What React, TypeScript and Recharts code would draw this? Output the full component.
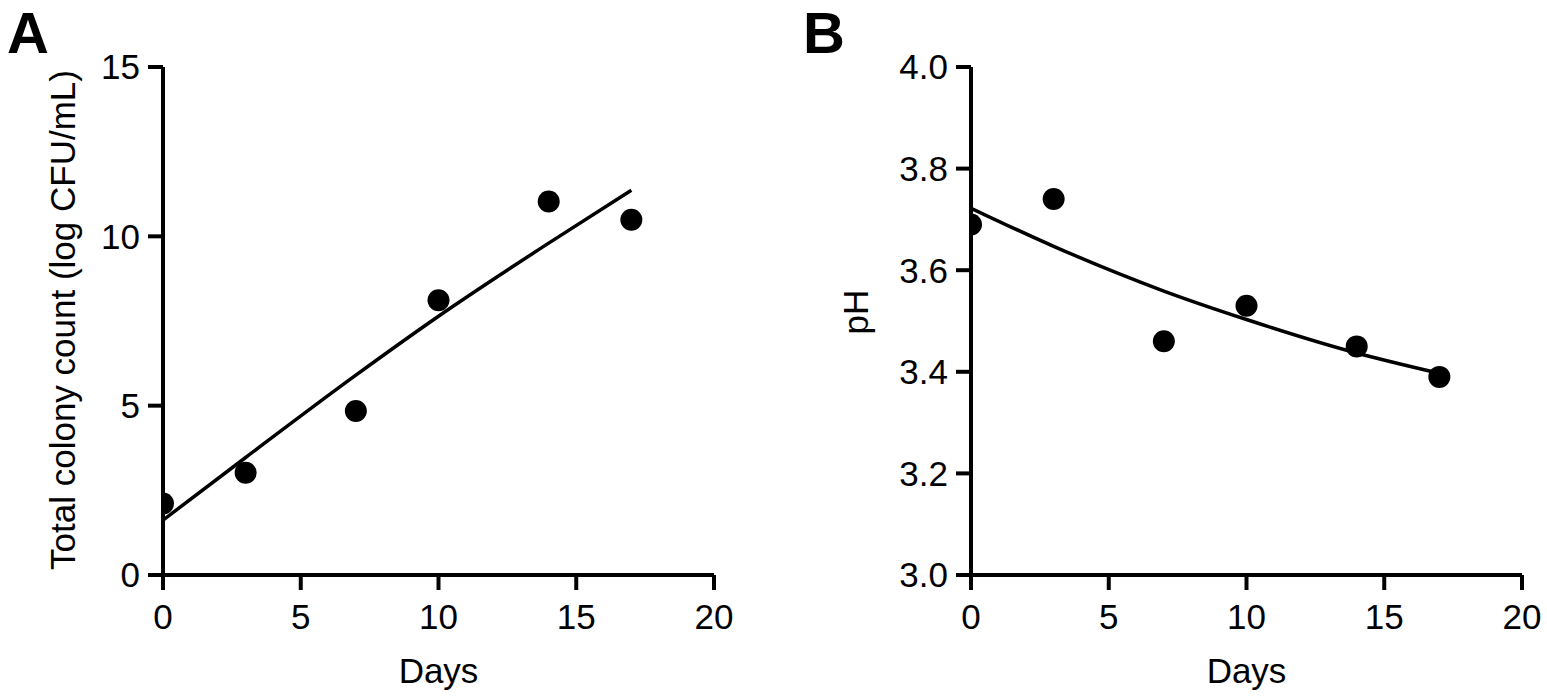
import React from "react"
import { ComposedChart, XAxis, YAxis, Scatter, Line, Label } from "recharts"

// measured days
const days = [0, 3, 7, 10, 14, 17]
// A: total colony count (log CFU/mL)
const colonyCount = [2.11, 3.02, 4.84, 8.11, 11.03, 10.49]
const colonyFit = [1.62, 3.47, 5.9, 7.64, 9.8, 11.36]
// B: pH
const phValues = [3.69, 3.74, 3.46, 3.53, 3.45, 3.39]
const phFit = [3.722, 3.647, 3.559, 3.503, 3.437, 3.397]

const xTicks = [0, 5, 10, 15, 20]
const colonyTicks = [0, 5, 10, 15]
const phTicks = [3.0, 3.2, 3.4, 3.6, 3.8, 4.0]

const FONT = '"Liberation Sans", Arial, Helvetica, sans-serif'

const toRows = (xs: number[], ys: number[]) =>
  xs.map((day, i) => ({ day, value: ys[i] }))

const axisStroke = { stroke: "#000", strokeWidth: 4 }
const tickStyle = { fill: "#000", fontSize: 35, fontFamily: FONT }

const Dot = (props: any) => (
  <circle cx={props.cx} cy={props.cy} r={11} fill="#000" />
)

interface PanelProps {
  points: { day: number; value: number }[]
  fit: { day: number; value: number }[]
  yDomain: [number, number]
  yTicks: number[]
  yFormat?: (v: number) => string
  yTitle: string
  yTitleX: number
  yTitleY: number
  width: number
  margin: { top: number; right: number; bottom: number; left: number }
}

function Panel({
  points,
  fit,
  yDomain,
  yTicks,
  yFormat,
  yTitle,
  yTitleX,
  yTitleY,
  width,
  margin,
}: PanelProps) {
  return (
    <ComposedChart width={width} height={697} margin={margin}>
      <XAxis
        type="number"
        dataKey="day"
        domain={[0, 20]}
        ticks={xTicks}
        allowDataOverflow
        height={60}
        tickSize={15}
        tickMargin={14}
        axisLine={axisStroke}
        tickLine={axisStroke}
        tick={tickStyle}
      >
        <Label
          content={({ viewBox }: any) => (
            <text
              x={viewBox.x + viewBox.width / 2}
              y={683}
              textAnchor="middle"
              fontSize={35}
              fontFamily={FONT}
              fill="#000"
            >
              Days
            </text>
          )}
        />
      </XAxis>
      <YAxis
        type="number"
        dataKey="value"
        domain={yDomain}
        ticks={yTicks}
        allowDataOverflow
        width={80}
        tickSize={15}
        tickMargin={8}
        axisLine={axisStroke}
        tickLine={axisStroke}
        tick={tickStyle}
        tickFormatter={yFormat}
      >
        <Label
          content={() => (
            <text
              x={yTitleX}
              y={yTitleY}
              transform={`rotate(-90 ${yTitleX} ${yTitleY})`}
              textAnchor="middle"
              fontSize={35}
              fontFamily={FONT}
              fill="#000"
            >
              {yTitle}
            </text>
          )}
        />
      </YAxis>
      <Line
        data={fit}
        dataKey="value"
        type="monotone"
        stroke="#000"
        strokeWidth={3.5}
        dot={false}
        activeDot={false}
        isAnimationActive={false}
      />
      <Scatter
        data={points}
        dataKey="value"
        fill="#000"
        shape={Dot}
        isAnimationActive={false}
      />
    </ComposedChart>
  )
}

const letterStyle: React.CSSProperties = {
  position: "absolute",
  top: 0,
  fontFamily: FONT,
  fontWeight: 700,
  fontSize: 58,
  lineHeight: "65px",
  color: "#000",
}

export default function App() {
  return (
    <div
      style={{
        position: "absolute",
        left: 0,
        top: 0,
        width: 1547,
        height: 697,
        background: "#fff",
        overflow: "hidden",
      }}
    >
      <div style={{ position: "absolute", left: 0, top: 0 }}>
        <Panel
          points={toRows(days, colonyCount)}
          fit={toRows(days, colonyFit)}
          yDomain={[0, 15]}
          yTicks={colonyTicks}
          yTitle="Total colony count (log CFU/mL)"
          yTitleX={75}
          yTitleY={320}
          width={770}
          margin={{ top: 67, right: 56, bottom: 62, left: 83 }}
        />
      </div>
      <div style={{ position: "absolute", left: 770, top: 0 }}>
        <Panel
          points={toRows(days, phValues)}
          fit={toRows(days, phFit)}
          yDomain={[3, 4]}
          yTicks={phTicks}
          yFormat={(v) => v.toFixed(1)}
          yTitle="pH"
          yTitleX={98}
          yTitleY={312}
          width={777}
          margin={{ top: 67, right: 25, bottom: 62, left: 121 }}
        />
      </div>
      <div style={{ ...letterStyle, left: 7 }}>A</div>
      <div style={{ ...letterStyle, left: 803 }}>B</div>
    </div>
  )
}
